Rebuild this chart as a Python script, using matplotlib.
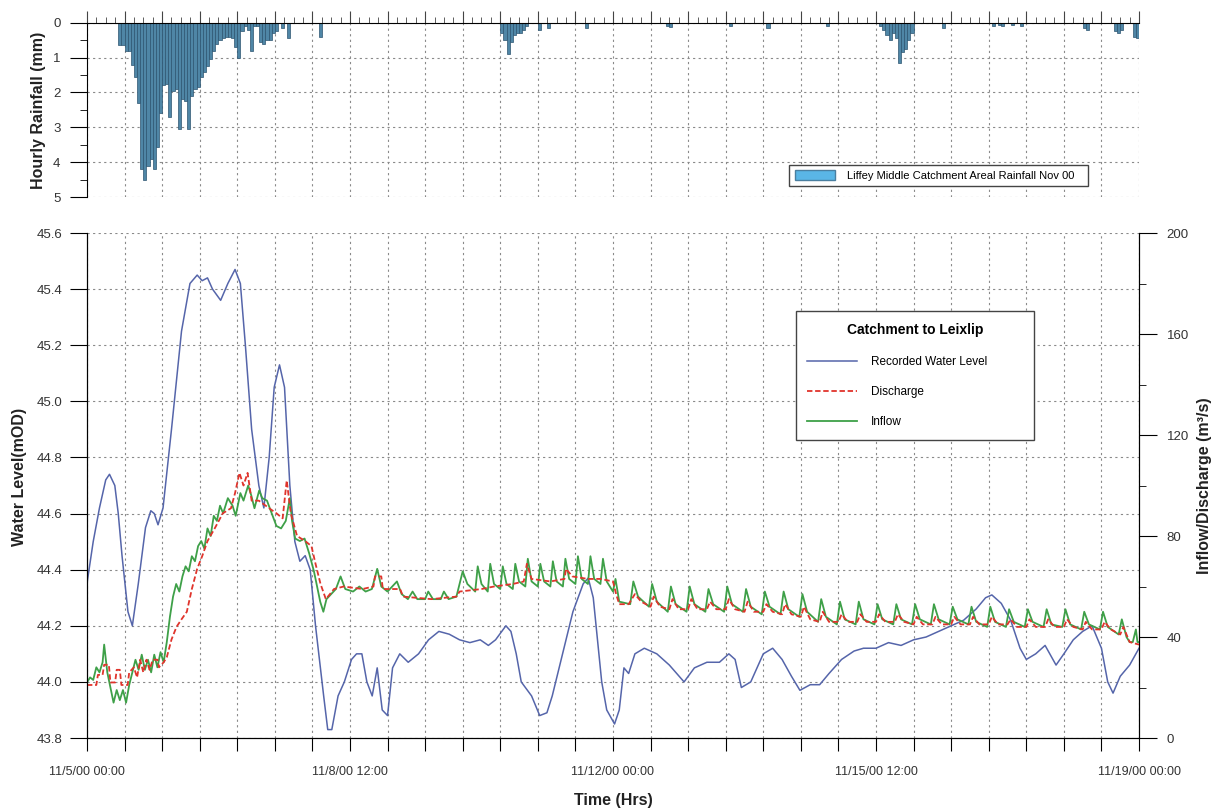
import matplotlib
matplotlib.use("Agg")
import matplotlib.pyplot as plt
import matplotlib.dates as mdates
from matplotlib.ticker import MultipleLocator, FuncFormatter
from matplotlib.patches import Patch
from matplotlib.lines import Line2D
import pandas as pd

plt.rcParams['font.family'] = ['Liberation Sans', 'DejaVu Sans']

start = pd.Timestamp('2000-11-05 00:00')
end = pd.Timestamp('2000-11-19 00:00')

# hourly rainfall (mm), storms given as consecutive hours from a start hour
storm1_start = 10
storm1_mm = [0.64, 0.64, 0.8, 0.8, 1.2, 1.55, 2.3, 4.2, 4.5, 4.1,
             3.9, 4.2, 3.55, 2.6, 1.8, 1.75, 2.7, 1.95, 1.9, 3.05,
             2.2, 2.25, 3.05, 2.1, 1.9, 1.85, 1.55, 1.4, 1.25, 1.05,
             0.8, 0.6, 0.5, 0.45, 0.4, 0.4, 0.45, 0.7, 1.0, 0.25,
             0.1, 0.2, 0.8, 0.1, 0.1, 0.55, 0.6, 0.5, 0.5, 0.3,
             0.25, 0, 0.15, 0, 0.45, 0]
storm2_start = 132
storm2_mm = [0.3, 0.5, 0.9, 0.55, 0.35, 0.3, 0.3, 0.2, 0.1]
storm3_start = 253
storm3_mm = [0.1, 0.2, 0.35, 0.5, 0.3, 0.45, 1.15, 0.85, 0.75, 0.5, 0.3]
showers_hour = [74, 144, 147, 159, 185, 186, 205, 217, 236, 273, 289, 291,
                292, 295, 298, 318, 319, 328, 329, 330, 334, 335]
showers_mm = [0.4, 0.2, 0.15, 0.15, 0.1, 0.12, 0.1, 0.15, 0.1, 0.15, 0.1, 0.08,
              0.1, 0.08, 0.1, 0.15, 0.2, 0.25, 0.3, 0.2, 0.4, 0.45]

# recorded water level (mOD)
level_hr = [0, 2, 4, 6, 7.2, 8.9, 10, 11.2, 13.1, 14.5, 16.4, 18.7, 20.4, 21.5, 22.7,
            24.3, 27, 30.2, 32.9, 35.2, 36.8, 38.5, 40.1, 42.7, 45, 47.3, 49, 50.6,
            52.6, 54.9, 56.5, 58.2, 59.8, 61.5, 63.1, 64.8, 66.4, 68, 69.7, 71.3, 73,
            75.6, 76.9, 78.2, 80.2, 82.2, 84.5, 86.1, 87.8, 89.4, 91.1, 92.7, 94.3,
            96, 97.6, 99.9, 102.6, 105.9, 109.1, 112.4, 115.7, 119, 122.3, 125.6,
            128.2, 130.5, 133.8, 135.4, 137.1, 138.7, 142, 144.6, 146.9, 148.6,
            151.9, 155.2, 158.5, 160.1, 161.7, 164.4, 166, 168.5, 170, 171.5, 173,
            175, 178, 182, 186, 190.7, 194, 198, 202, 205, 207, 209, 212, 216, 219,
            222, 225, 227.7, 231, 234, 237, 241, 245, 248, 252, 256, 260, 264, 268,
            272, 276, 280, 284, 287, 289, 292, 295, 298, 300, 303, 306, 309.5, 312,
            315, 318, 321, 324, 326, 327.7, 330, 333, 336]
level_m = [44.35, 44.5, 44.62, 44.72, 44.74, 44.7, 44.6, 44.45, 44.25, 44.2, 44.35,
           44.55, 44.61, 44.6, 44.56, 44.62, 44.9, 45.25, 45.42, 45.45, 45.43, 45.44,
           45.4, 45.36, 45.42, 45.47, 45.42, 45.2, 44.9, 44.7, 44.62, 44.8, 45.05,
           45.13, 45.05, 44.7, 44.5, 44.43, 44.45, 44.4, 44.2, 43.95, 43.83, 43.83,
           43.95, 44.0, 44.08, 44.1, 44.1, 44.0, 43.95, 44.05, 43.9, 43.88, 44.05,
           44.1, 44.07, 44.1, 44.15, 44.18, 44.17, 44.15, 44.14, 44.15, 44.13, 44.15,
           44.2, 44.18, 44.1, 44.0, 43.95, 43.88, 43.89, 43.95, 44.1, 44.25, 44.35,
           44.37, 44.3, 44.0, 43.9, 43.85, 43.9, 44.05, 44.03, 44.1, 44.12, 44.1,
           44.06, 44.0, 44.05, 44.07, 44.07, 44.1, 44.08, 43.98, 44.0, 44.1, 44.12,
           44.08, 44.02, 43.97, 43.99, 43.99, 44.03, 44.08, 44.11, 44.12, 44.12,
           44.14, 44.13, 44.15, 44.16, 44.18, 44.2, 44.22, 44.26, 44.3, 44.31, 44.28,
           44.22, 44.12, 44.08, 44.1, 44.13, 44.06, 44.1, 44.15, 44.18, 44.2, 44.12,
           44.0, 43.96, 44.02, 44.06, 44.12]

# discharge (m3/s)
discharge_hr = [0, 3, 3.5, 5, 5.5, 7, 7.5, 9, 9.5, 10.5, 11, 13, 13.5, 15, 16, 17, 18,
                19, 20, 21, 22.5, 23, 24.5, 25.5, 27, 28.6, 30.2, 31.9, 33.5, 35.2,
                36.8, 38.5, 40.8, 43.4, 46, 47.3, 48.7, 50, 51.3, 52.6, 54.9, 58.2,
                60.5, 62.5, 63.8, 65.1, 67.1, 69.7, 71.7, 73, 74.6, 76.3, 78.9, 82, 88,
                91.5, 92, 94, 94.5, 100, 101, 110, 118, 119, 126, 130, 136, 139.5,
                140.5, 142, 148, 152.5, 153, 155, 160, 164, 168, 169, 170, 173, 175,
                177, 180, 181, 183, 186, 187, 189, 192, 193, 195, 198, 199, 201, 204,
                205, 207, 210, 211, 213, 216, 217, 219, 222, 223, 225, 228, 229, 231,
                234, 235, 237, 240, 241, 243, 246, 247, 249, 252, 253, 255, 258, 259,
                261, 264, 265, 267, 270, 271, 273, 276, 277, 279, 282, 283, 285, 288,
                289, 291, 294, 295, 297, 300, 301, 303, 306, 307, 309, 312, 313, 315,
                318, 319, 321, 324, 325, 327, 330, 331, 333, 336]
discharge_q = [21, 21, 25, 25, 29, 29, 22, 22, 27, 27, 21, 21, 26, 28, 24, 31, 26,
               31, 27, 31, 31, 28, 30, 32, 39, 44, 47, 50, 59, 67,
               72, 78, 83, 89, 91, 97, 105, 100, 105, 94, 94, 91,
               89, 87, 102, 89, 80, 78, 76, 69, 61, 55, 59, 60, 59,
               60, 64, 64, 59, 59, 56, 55, 56, 58, 59, 60, 61, 62,
               69, 63, 62, 63, 67, 64, 63, 63, 62, 57, 53, 53, 57,
               54, 52, 56, 52, 51, 55, 51, 51, 55, 51, 51, 54, 51, 51,
               55, 51, 50, 54, 50, 50, 53, 50, 49, 53, 49, 48, 52, 47,
               46, 50, 46, 46, 49, 46, 46, 49, 46, 46, 49, 46, 46, 49,
               46, 45, 48, 45, 45, 48, 45, 45, 48, 45, 45, 48, 45, 45,
               48, 45, 45, 47, 44, 44, 47, 44, 44, 47, 44, 44, 47, 44,
               43, 46, 43, 43, 46, 43, 41, 44, 38, 37]

# inflow (m3/s)
inflow_hr = [0, 1, 2, 3, 4, 5, 5.5, 6.5, 7.5, 8.5, 9.5, 10.5, 11.5, 12.5, 13.5, 14.5,
             15.5, 16.5, 17.5, 18.5, 19.5, 20.5, 21.5, 22.5, 23.5, 24.5, 25.5,
             26.5, 27.5, 28.5, 29.5, 30.5, 31.5, 32.5, 33.5, 34.5, 35.5, 36.5, 37.5,
             38.5, 39.5, 40.5, 41.5, 42.5, 43.5, 45, 46.5, 47.5, 49, 50, 51.5, 52.5,
             53.5, 55, 56, 57.5, 59, 60.5, 62, 63.5, 64.8, 65.5, 66.5, 68, 69.5, 71,
             72.5, 73.5, 74.5, 75.5, 76.5, 78, 79.5,
             81, 82.5, 85, 87, 89, 91, 92.7, 94, 96, 99, 100.5, 102.5, 104, 105.5,
             108, 109, 110.5, 113, 114, 115.5, 118,
             120, 121.5, 124, 124.8, 126, 128, 128.8, 130, 132, 132.8, 134, 136,
             136.8, 138, 140, 140.8, 142, 144, 144.8, 146, 148, 148.8, 150, 152,
             152.8, 154, 156, 156.8, 158, 160, 160.8, 162, 164, 164.8, 166, 168,
             168.8, 170,
             173.5, 174.5, 176, 179.5, 180.5, 182, 185.5, 186.5, 188, 191.5, 192.5,
             194, 197.5, 198.5, 200, 203.5, 204.5, 206, 209.5, 210.5, 212, 215.5,
             216.5, 218, 221.5, 222.5, 224, 227.5, 228.5, 230, 233.5, 234.5, 236,
             239.5, 240.5, 242, 245.5, 246.5, 248, 251.5, 252.5, 254, 257.5, 258.5,
             260, 263.5, 264.5, 266, 269.5, 270.5, 272, 275.5, 276.5, 278, 281.5,
             282.5, 284, 287.5, 288.5, 290, 293.5, 294.5, 296, 299.5, 300.5, 302,
             305.5, 306.5, 308, 311.5, 312.5, 314, 317.5, 318.5, 320, 323.5, 324.5,
             326, 329.5, 330.5, 332, 333, 334, 335, 335.5, 336]
inflow_q = [22, 24, 23, 28, 26, 30, 37, 26, 20, 14, 19, 15, 19, 14, 21, 26,
            31, 27, 33, 27, 31, 26, 33, 28, 34, 30, 38,
            48, 56, 61, 58, 64, 68, 66, 72, 70, 76, 78, 75,
            83, 80, 88, 86, 92, 89, 95, 92, 88, 97, 94, 100, 96,
            91, 98, 95, 94, 89, 84, 83, 86, 95, 86, 79, 78, 79, 73,
            66, 60, 54, 50, 55, 57, 59,
            64, 59, 58, 60, 58, 59, 67, 60, 58, 62, 57, 55, 58, 55,
            55, 58, 55, 55, 58, 55, 56,
            66, 61, 58, 68, 61, 58, 69, 61, 59, 68, 61, 59,
            69, 62, 60, 71, 62, 60, 69, 62, 60, 70, 62, 60,
            71, 63, 61, 72, 63, 61, 72, 63, 61, 71, 62, 58,
            63, 54,
            53, 62, 56, 52, 61, 54, 50, 60, 53, 50, 60,
            53, 50, 59, 53, 50, 60, 53, 50, 59, 52, 49,
            58, 52, 49, 58, 51, 48, 57, 50, 46, 55, 48,
            45, 54, 47, 45, 54, 47, 45, 53, 47, 45, 53,
            47, 45, 53, 47, 45, 53, 47, 45, 52, 47, 45,
            52, 46, 44, 52, 46, 44, 51, 46, 44, 51, 46,
            44, 51, 45, 44, 51, 45, 43, 50, 45, 43, 50,
            44, 41, 47, 40, 38, 38, 43, 38, 38]


def at(hours):
    return start + pd.to_timedelta(hours, unit='h')


rain_t = (list(range(storm1_start, storm1_start + len(storm1_mm)))
          + list(range(storm2_start, storm2_start + len(storm2_mm)))
          + list(range(storm3_start, storm3_start + len(storm3_mm)))
          + showers_hour)
rain_v = storm1_mm + storm2_mm + storm3_mm + showers_mm

fig = plt.figure(figsize=(12.16, 8.11), dpi=100)
ax_r = fig.add_axes([0.0715, 0.757, 0.8652, 0.215])
ax = fig.add_axes([0.0715, 0.090, 0.8652, 0.6227])
ax2 = ax.twinx()

grid_kw = dict(color='#8a8a8a', linestyle=(0, (2, 3)), linewidth=0.8)
tick_col = '#333333'
label_kw = dict(fontsize=11.5, fontweight='bold', color='#222222')

# rainfall panel
ax_r.bar(at(rain_t), rain_v, width=1 / 24, align='edge', color='#4f86a6',
         edgecolor='#2c5470', linewidth=0.5)
ax_r.set_xlim(start, end)
ax_r.set_ylim(5, 0)
ax_r.xaxis.tick_top()
ax_r.xaxis.set_major_locator(mdates.HourLocator(byhour=[0, 12]))
ax_r.xaxis.set_minor_locator(mdates.HourLocator(byhour=range(0, 24, 3)))
ax_r.tick_params(axis='x', which='major', length=9, labeltop=False, color='#444')
ax_r.tick_params(axis='x', which='minor', length=4, color='#444')
ax_r.yaxis.set_major_locator(MultipleLocator(1))
ax_r.yaxis.set_minor_locator(MultipleLocator(0.5))
ax_r.tick_params(axis='y', which='major', length=12, labelsize=9.5, pad=7,
                 labelcolor=tick_col)
ax_r.tick_params(axis='y', which='minor', length=5)
ax_r.grid(True, which='major', **grid_kw)
ax_r.set_axisbelow(True)
for s in ['right', 'bottom']:
    ax_r.spines[s].set_visible(False)
ax_r.set_ylabel('Hourly Rainfall (mm)', **label_kw)
ax_r.yaxis.label.set_va('center')
ax_r.yaxis.set_label_coords(-0.0456, 0.5)
ax_r.legend(handles=[Patch(facecolor='#5ab6e6', edgecolor='#4a7fa0',
                           label='Liffey Middle Catchment Areal Rainfall Nov 00')],
            loc='lower left', bbox_to_anchor=(0.662, 0.029, 0.2947, 0.2),
            mode='expand', fontsize=8, frameon=True, fancybox=False,
            edgecolor='#444444', framealpha=1, handlelength=3.6, handleheight=0.9,
            borderpad=0.5, handletextpad=1.1)

# main panel
ax.plot(at(level_hr), level_m, color='#5565aa', linewidth=1.1)
ax2.plot(at(inflow_hr), inflow_q, color='#3ea048', linewidth=1.3)
ax2.plot(at(discharge_hr), discharge_q, color='#e0342c', linewidth=1.3,
         linestyle=(0, (3, 1.5)))

ax.set_xlim(start, end)
ax.set_ylim(43.8, 45.6)
ax2.set_ylim(0, 200)

start_num = mdates.date2num(start)


def date_label(x, pos):
    hrs = round((x - start_num) * 24)
    if hrs % 84 != 0:
        return ''
    d = mdates.num2date(x)
    return f"{d.month}/{d.day}/{d:%y} {d:%H:%M}"


ax.xaxis.set_major_locator(mdates.HourLocator(byhour=[0, 12]))
ax.xaxis.set_major_formatter(FuncFormatter(date_label))
ax.tick_params(axis='x', which='major', length=9, labelsize=9, pad=11,
               labelcolor=tick_col)
ax.yaxis.set_major_locator(MultipleLocator(0.2))
ax.yaxis.set_major_formatter(FuncFormatter(lambda v, p: f"{v:.1f}"))
ax.tick_params(axis='y', length=12, labelsize=9.5, pad=6, labelcolor=tick_col)
ax.grid(True, which='major', **grid_kw)
ax.set_axisbelow(True)
ax.spines['top'].set_visible(False)
ax2.spines['top'].set_visible(False)

ax2.yaxis.set_major_locator(MultipleLocator(40))
ax2.yaxis.set_minor_locator(MultipleLocator(20))
ax2.tick_params(axis='y', which='major', length=13, labelsize=9.5, pad=7,
                labelcolor=tick_col)
ax2.tick_params(axis='y', which='minor', length=5)

ax.set_ylabel('Water Level(mOD)', **label_kw)
ax.yaxis.label.set_va('center')
ax.yaxis.set_label_coords(-0.0637, 0.517)
ax2.set_ylabel('Inflow/Discharge (m\u00b3/s)', **label_kw)
ax2.yaxis.label.set_va('center')
ax2.yaxis.set_label_coords(1.0627, 0.5)
ax.set_xlabel('Time (Hrs)', **label_kw)
ax.xaxis.label.set_va('center')
ax.xaxis.set_label_coords(0.5, -0.123)

handles = [Line2D([], [], color='#5565aa', linewidth=1.1, label='Recorded Water Level'),
           Line2D([], [], color='#e0342c', linewidth=1.3, linestyle=(0, (3, 1.5)),
                  label='Discharge'),
           Line2D([], [], color='#3ea048', linewidth=1.3, label='Inflow')]
leg = ax2.legend(handles=handles, title='Catchment to Leixlip', loc='upper left',
                 bbox_to_anchor=(0.668, 0.5, 0.2376, 0.357), mode='expand',
                 fontsize=8.5, frameon=True, fancybox=False, edgecolor='#444444',
                 framealpha=1, handlelength=4.2, handletextpad=1.2,
                 labelspacing=1.5, borderpad=1.0,
                 title_fontproperties={'weight': 'bold', 'size': 10})
leg._legend_box.sep = 14

fig.savefig('out.png', dpi=100)
